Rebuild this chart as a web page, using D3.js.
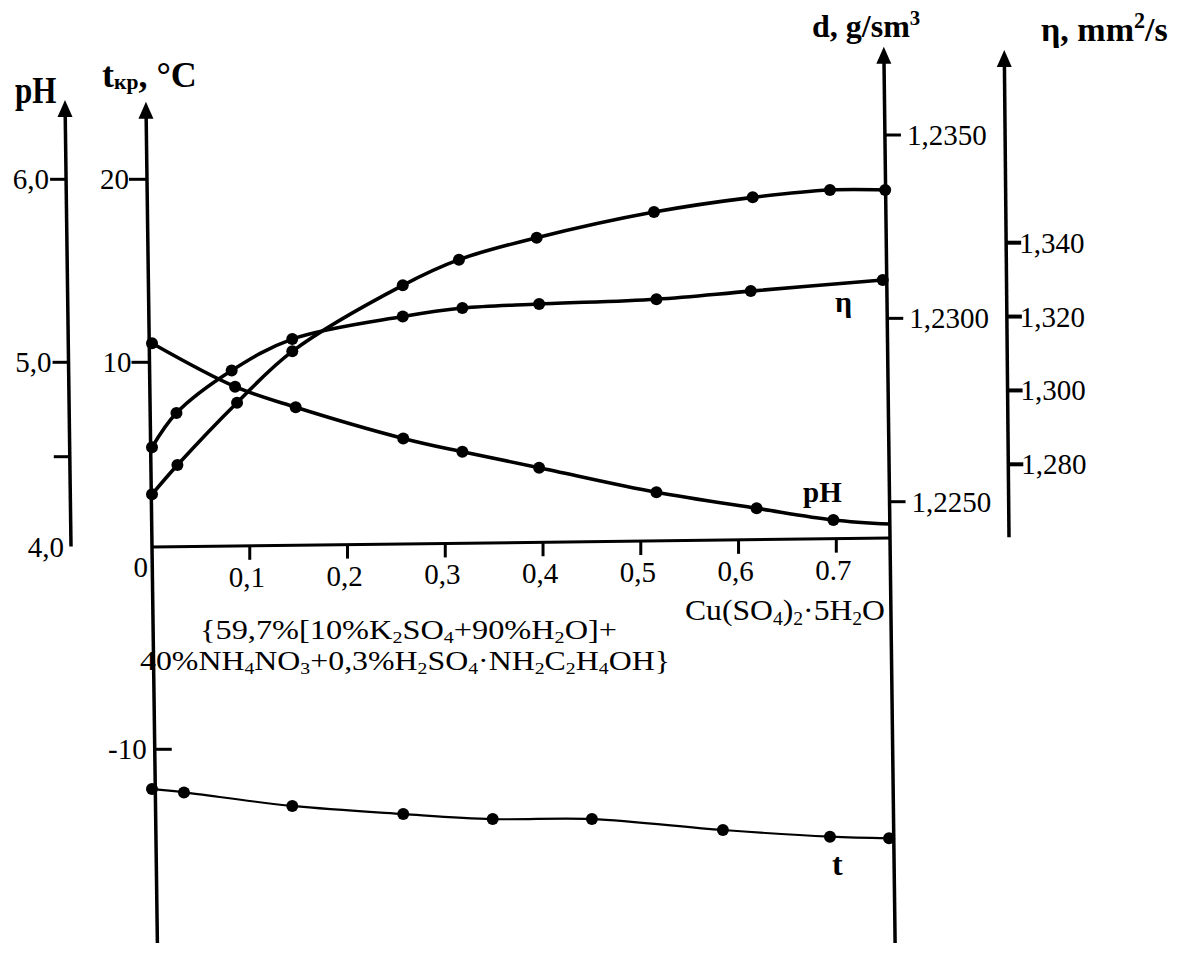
<!DOCTYPE html>
<html>
<head>
<meta charset="utf-8">
<script src="https://cdn.jsdelivr.net/npm/d3@7"></script>
<style>
  body { margin: 0; background: #fff; }
  text { font-family: "Liberation Serif", "Times New Roman", serif; fill: #000; }
</style>
</head>
<body>
<div id="chart"></div>
<script>
// concentration of Cu(SO4)2·5H2O, one x list per curve (points are not shared)
var dX   = [0, 0.026, 0.087, 0.1435, 0.2565, 0.314, 0.3935, 0.5135, 0.6145, 0.6935, 0.75];
var dVal = [1.2252, 1.2260, 1.2277, 1.2291, 1.2309, 1.2316, 1.2322, 1.2329, 1.2333, 1.2335, 1.2335];

var etaX   = [0, 0.025, 0.0815, 0.1435, 0.2565, 0.3175, 0.396, 0.516, 0.6125, 0.7475];
var etaVal = [1.2846, 1.2939, 1.3054, 1.3139, 1.3200, 1.3223, 1.3234, 1.3247, 1.3269, 1.3299];

// last pH point is where the curve meets the right axis (no marker there)
var phX   = [0, 0.085, 0.147, 0.257, 0.3175, 0.396, 0.516, 0.6185, 0.697, 0.755];
var phVal = [5.104, 4.871, 4.762, 4.597, 4.526, 4.439, 4.302, 4.213, 4.148, 4.125];

var tX   = [0, 0.0327, 0.1435, 0.257, 0.3485, 0.45, 0.584, 0.6935, 0.754];
var tVal = [-11.96, -12.13, -12.80, -13.20, -13.45, -13.45, -13.99, -14.32, -14.40];

var xTicks   = [0.1, 0.2, 0.3, 0.4, 0.5, 0.6, 0.7];
var tTicks   = [20, 10, -10];
var phTicks  = [6.0, 5.0, 4.5];
var phLabels = ["6,0", "5,0", ""];
var dTicks   = [1.2350, 1.2300, 1.2250];
var etaTicks = [1.340, 1.320, 1.300, 1.280];

var W = 1181, H = 956;
var fmt = function(v, n) { return v.toFixed(n).replace(".", ","); };

var svg = d3.select("#chart").append("svg")
    .attr("width", W)
    .attr("height", H);

// scales (the drawing is hand made, so some of them are piecewise)
var x = d3.scaleLinear().domain([0, 0.7]).range([152, 836.3]);
var yT = d3.scaleLinear().domain([-10, 0, 10, 20]).range([749.3, 547, 362.3, 179.3]);
var yPH = d3.scaleLinear().domain([4, 4.5, 5, 6]).range([546.5, 456.7, 362.3, 179.3]);
var yD = d3.scaleLinear().domain([1.225, 1.235]).range([501.7, 135]);
var yEta = d3.scaleLinear().domain([1.28, 1.34]).range([464.3, 242.7]);

var xEnd = x.invert(890);
// x axis is slightly tilted
var xAxisY = function(v) { return 547 - 0.0122 * (x(v) - x(0)); };

// the vertical axes lean a little to the right going down
function makeAxis(x0, y0, slope, top, bottom) {
  return { at: function(y) { return x0 + slope * (y - y0); }, top: top, bottom: bottom };
}
var axT   = makeAxis(x(0), 547, 0.0136, 101.7, 943);
var axD   = makeAxis(x(xEnd), xAxisY(xEnd), 0.0126, 46.7, 943);
var axPH  = makeAxis(71, 546.5, 0.0134, 100, 546.5);
var axEta = makeAxis(1009, 537.3, 0.0097, 50, 537.3);

function drawAxis(ax, arrow) {
  var g = svg.append("g");
  g.append("line")
      .attr("x1", ax.at(ax.top + 10)).attr("y1", ax.top + 10)
      .attr("x2", ax.at(ax.bottom)).attr("y2", ax.bottom)
      .attr("stroke", "#000").attr("stroke-width", 3.5);
  if (arrow) {
    var tx = ax.at(ax.top), ty = ax.top;
    g.append("path")
        .attr("d", "M" + tx + "," + ty + "L" + (tx - 7.5) + "," + (ty + 17) + "L" + (tx + 7.5) + "," + (ty + 17) + "Z")
        .attr("fill", "#000");
  }
  return g;
}
drawAxis(axPH, true);
drawAxis(axT, true);
drawAxis(axD, true);
drawAxis(axEta, true);

// x axis
svg.append("line")
    .attr("x1", x(0)).attr("y1", xAxisY(0))
    .attr("x2", x(xEnd)).attr("y2", xAxisY(xEnd))
    .attr("stroke", "#000").attr("stroke-width", 3);

svg.selectAll(".xtick").data(xTicks).enter().append("line")
    .attr("class", "xtick")
    .attr("x1", function(d) { return x(d); }).attr("x2", function(d) { return x(d); })
    .attr("y1", function(d) { return xAxisY(d); })
    .attr("y2", function(d) { return xAxisY(d) + 14; })
    .attr("stroke", "#000").attr("stroke-width", 3);

svg.selectAll(".xlab").data(xTicks).enter().append("text")
    .attr("class", "xlab")
    .attr("x", function(d) { return x(d) - 3; })
    .attr("y", function(d) { return xAxisY(d) + 41; })
    .attr("text-anchor", "middle")
    .attr("font-size", 29)
    .text(function(d) { return d === 0.7 ? "0.7" : fmt(d, 1); });

svg.append("text")
    .attr("x", x(0) - 4).attr("y", 577)
    .attr("text-anchor", "end")
    .attr("font-size", 29)
    .text("0");

// t axis ticks (20, 10 on the left, -10 on the right)
tTicks.forEach(function(v) {
  var y = yT(v), ax = axT.at(y);
  var left = v > 0;
  svg.append("line")
      .attr("x1", left ? ax - 18 : ax).attr("x2", left ? ax : ax + 17)
      .attr("y1", y).attr("y2", y)
      .attr("stroke", "#000").attr("stroke-width", 3);
  svg.append("text")
      .attr("x", left ? ax - 18 : ax - 8).attr("y", y + 10)
      .attr("text-anchor", "end")
      .attr("font-size", 29)
      .text(String(v));
});

// pH axis ticks
phTicks.forEach(function(v, i) {
  var y = yPH(v), ax = axPH.at(y);
  svg.append("line")
      .attr("x1", ax - 16).attr("x2", ax)
      .attr("y1", y).attr("y2", y)
      .attr("stroke", "#000").attr("stroke-width", 3);
  if (phLabels[i]) {
    svg.append("text")
        .attr("x", ax - 17).attr("y", y + 10)
        .attr("text-anchor", "end")
        .attr("font-size", 29)
        .text(phLabels[i]);
  }
});
svg.append("text")
    .attr("x", axPH.at(yPH(4)) - 7).attr("y", yPH(4) + 10)
    .attr("text-anchor", "end")
    .attr("font-size", 29)
    .text("4,0");

// density axis ticks (right of axis)
dTicks.forEach(function(v) {
  var y = yD(v), ax = axD.at(y);
  svg.append("line")
      .attr("x1", ax + 1).attr("x2", ax + 16)
      .attr("y1", y).attr("y2", y)
      .attr("stroke", "#000").attr("stroke-width", 3);
  svg.append("text")
      .attr("x", ax + 22).attr("y", y + 10)
      .attr("font-size", 29)
      .text(fmt(v, 4));
});

// viscosity axis ticks
etaTicks.forEach(function(v) {
  var y = yEta(v), ax = axEta.at(y);
  svg.append("line")
      .attr("x1", ax).attr("x2", ax + 15)
      .attr("y1", y).attr("y2", y)
      .attr("stroke", "#000").attr("stroke-width", 4);
  svg.append("text")
      .attr("x", ax + 13).attr("y", y + 10)
      .attr("font-size", 29)
      .text(fmt(v, 3));
});

// curves
function drawCurve(xs, vs, yScale, width, dots) {
  var pts = xs.map(function(v, i) { return [v, vs[i]]; });
  var line = d3.line()
      .x(function(d) { return x(d[0]); })
      .y(function(d) { return yScale(d[1]); })
      .curve(d3.curveCatmullRom.alpha(0.5));
  svg.append("path")
      .datum(pts)
      .attr("d", line)
      .attr("fill", "none")
      .attr("stroke", "#000")
      .attr("stroke-width", width);
  svg.append("g").selectAll("circle")
      .data(pts.slice(0, dots))
      .enter().append("circle")
      .attr("cx", function(d) { return x(d[0]); })
      .attr("cy", function(d) { return yScale(d[1]); })
      .attr("r", 6)
      .attr("fill", "#000");
}
drawCurve(dX, dVal, yD, 3.6, dX.length);
drawCurve(etaX, etaVal, yEta, 3.6, etaX.length);
drawCurve(phX, phVal, yPH, 3.6, phX.length - 1);
drawCurve(tX, tVal, yT, 2.2, tX.length);

// text with _{sub} and ^{sup} pieces
function rich(t, str, fs, subScale, subDrop) {
  subScale = subScale || 0.65;
  subDrop = subDrop === undefined ? 0.2 : subDrop;
  var parts = str.split(/(_\{[^}]*\}|\^\{[^}]*\})/).filter(function(s) { return s.length; });
  var shift = 0;
  parts.forEach(function(p) {
    var target = 0, size = fs, s = p;
    if (p.indexOf("_{") === 0) { target = fs * subDrop; size = fs * subScale; s = p.slice(2, -1); }
    else if (p.indexOf("^{") === 0) { target = -fs * 0.38; size = fs * 0.65; s = p.slice(2, -1); }
    t.append("tspan").attr("font-size", size).attr("dy", target - shift).text(s);
    shift = target;
  });
  return t;
}

// axis titles
rich(svg.append("text").attr("transform", "translate(15,103) scale(1,1.2)")
    .attr("font-weight", "bold").attr("font-size", 31), "pH", 31);
rich(svg.append("text").attr("x", 102).attr("y", 87)
    .attr("font-weight", "bold").attr("font-size", 36), "t_{кр}, °C", 36, 0.6, 0.05);
rich(svg.append("text").attr("x", 812).attr("y", 37)
    .attr("font-weight", "bold").attr("font-size", 32), "d, g/sm^{3}", 32);
rich(svg.append("text").attr("x", 1041).attr("y", 41)
    .attr("font-weight", "bold").attr("font-size", 34), "η, mm^{2}/s", 34);

// curve labels
svg.append("text").attr("x", 803).attr("y", 502)
    .attr("font-weight", "bold").attr("font-size", 29).text("pH");
svg.append("text").attr("x", 835).attr("y", 312)
    .attr("font-weight", "bold").attr("font-size", 30).text("η");
svg.append("text").attr("x", 832).attr("y", 875)
    .attr("font-weight", "bold").attr("font-size", 32).text("t");

// composition labels
function fitted(xp, yp, str, fs, width) {
  var t = rich(svg.append("text").attr("x", xp).attr("y", yp).attr("font-size", fs), str, fs, 0.62, 0.16);
  var len = t.node().getComputedTextLength();
  if (len > 0) t.attr("textLength", width).attr("lengthAdjust", "spacingAndGlyphs");
  return t;
}
fitted(685, 620, "Cu(SO_{4})_{2}·5H_{2}O", 29, 200);
fitted(200, 639, "{59,7%[10%K_{2}SO_{4}+90%H_{2}O]+", 27, 417);
fitted(140, 670, "40%NH_{4}NO_{3}+0,3%H_{2}SO_{4}·NH_{2}C_{2}H_{4}OH}", 27, 530);
</script>
</body>
</html>
